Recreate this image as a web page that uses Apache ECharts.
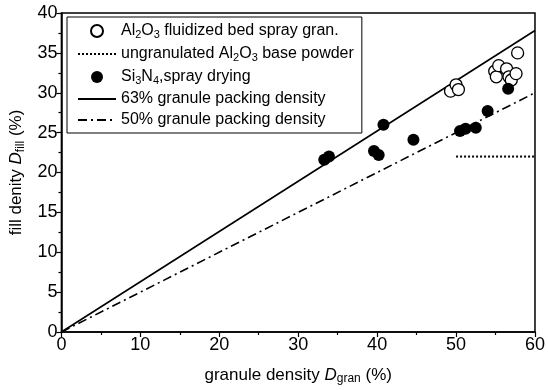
<!DOCTYPE html>
<html>
<head>
<meta charset="utf-8">
<script src="https://cdn.jsdelivr.net/npm/echarts@6/dist/echarts.min.js"></script>
<style>
  html, body { margin: 0; padding: 0; background: #fff; }
  #chart { width: 548px; height: 390px; }
</style>
</head>
<body>
<div id="chart"></div>
<script>
// Al2O3 fluidized bed spray granulation [granule density, fill density]
const al2o3Points = [
  [49.3, 30.2], [50.0, 31.0], [50.3, 30.4],
  [54.9, 32.7], [55.1, 32.0], [55.4, 33.4], [56.4, 33.0],
  [56.7, 32.0], [57.0, 31.6], [57.6, 32.4], [57.8, 35.0]
];
// Si3N4 spray drying
const si3n4Points = [
  [33.3, 21.6], [33.9, 22.0], [39.6, 22.7], [40.2, 22.2],
  [40.8, 26.0], [44.6, 24.1], [50.5, 25.2], [51.2, 25.5],
  [52.5, 25.6], [54.0, 27.7], [56.6, 30.5]
];
// ungranulated base powder level
const basePowder = [[50, 22], [60, 22]];
// packing density reference lines
const packing63 = [[0, 0], [60, 37.8]];
const packing50 = [[0, 0], [60, 30]];

const xTicks = { min: 0, max: 60, interval: 10 };
const yTicks = { min: 0, max: 40, interval: 5 };

const names = {
  al: 'Al2O3 fluidized bed spray gran.',
  base: 'ungranulated Al2O3 base powder',
  si: 'Si3N4,spray drying',
  p63: '63% granule packing density',
  p50: '50% granule packing density'
};
const legendRich = {};
legendRich[names.al] = '{t|Al}{s|2}{t|O}{s|3}{t| fluidized bed spray gran.}';
legendRich[names.base] = '{t|ungranulated Al}{s|2}{t|O}{s|3}{t| base powder}';
legendRich[names.si] = '{t|Si}{s|3}{t|N}{s|4}{t|,spray drying}';
legendRich[names.p63] = '{t|63% granule packing density}';
legendRich[names.p50] = '{t|50% granule packing density}';

const font = 'Liberation Sans, Arial, Helvetica, sans-serif';
const chart = echarts.init(document.getElementById('chart'));

const axisCommon = {
  axisLine: { show: true, lineStyle: { color: '#000', width: 1.5 } },
  axisTick: { show: true, inside: false, length: 5, lineStyle: { color: '#000', width: 1.2 } },
  minorTick: { show: true, splitNumber: 2, length: 3, lineStyle: { color: '#000', width: 1.2 } },
  splitLine: { show: false },
  axisLabel: { color: '#000', fontSize: 18, fontFamily: font, margin: 4 }
};

const nameRich = {
  t: { fontSize: 17, fontFamily: font, color: '#000' },
  i: { fontSize: 17, fontFamily: font, color: '#000', fontStyle: 'italic' },
  s: { fontSize: 12, fontFamily: font, color: '#000', padding: [8, 0, 0, 0] }
};

// hide the marker drawn in the middle of line legend icons
const noMark = { color: 'transparent', borderWidth: 0 };

chart.setOption({
  animation: false,
  backgroundColor: '#fff',
  grid: {
    left: 61, right: 8, top: 13, bottom: 57,
    show: true, borderColor: '#000', borderWidth: 1.5
  },
  legend: {
    orient: 'vertical',
    left: 67, top: 17,
    padding: [5, 8, 5, 10],
    itemGap: 5,
    itemWidth: 38,
    itemHeight: 12,
    borderColor: '#000',
    borderWidth: 1,
    data: [
      { name: names.al },
      { name: names.base, itemStyle: noMark },
      { name: names.si },
      { name: names.p63, itemStyle: noMark },
      { name: names.p50, itemStyle: noMark }
    ],
    formatter: n => legendRich[n],
    textStyle: {
      rich: {
        t: { fontSize: 16, fontFamily: font, color: '#000', lineHeight: 17 },
        s: { fontSize: 11, fontFamily: font, color: '#000', lineHeight: 17, padding: [7, 0, 0, 0] }
      }
    }
  },
  xAxis: Object.assign({}, axisCommon, {
    type: 'value',
    min: xTicks.min, max: xTicks.max, interval: xTicks.interval,
    name: '{t|granule density }{i|D}{s|gran}{t| (%)}',
    nameLocation: 'middle',
    nameGap: 33,
    nameTextStyle: { rich: nameRich }
  }),
  yAxis: Object.assign({}, axisCommon, {
    type: 'value',
    min: yTicks.min, max: yTicks.max, interval: yTicks.interval,
    name: '{t|fill denity }{i|D}{s|fill}{t| (%)}',
    nameLocation: 'middle',
    nameGap: 34,
    nameTextStyle: { rich: nameRich }
  }),
  series: [
    {
      name: names.al, type: 'scatter', data: al2o3Points,
      symbol: 'circle', symbolSize: 12, z: 4,
      itemStyle: { color: '#fff', borderColor: '#000', borderWidth: 1.3, opacity: 1 }
    },
    {
      name: names.base, type: 'line', data: basePowder,
      symbol: 'none', z: 3,
      lineStyle: { color: '#000', width: 2, type: [2, 2] },
      itemStyle: { color: '#000' }
    },
    {
      name: names.si, type: 'scatter', data: si3n4Points,
      symbol: 'circle', symbolSize: 12, z: 5,
      itemStyle: { color: '#000', opacity: 1 }
    },
    {
      name: names.p63, type: 'line', data: packing63,
      symbol: 'none', z: 2,
      lineStyle: { color: '#000', width: 1.6, type: 'solid' },
      itemStyle: { color: '#000' }
    },
    {
      name: names.p50, type: 'line', data: packing50,
      symbol: 'none', z: 2,
      lineStyle: { color: '#000', width: 1.6, type: [9, 4, 2, 4] },
      itemStyle: { color: '#000' }
    }
  ]
});
</script>
</body>
</html>
